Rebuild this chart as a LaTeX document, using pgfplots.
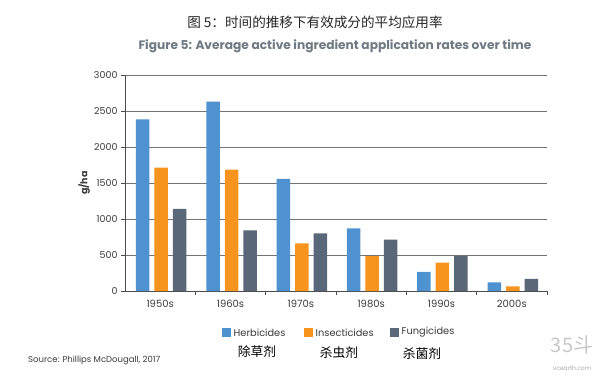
\documentclass[border=0pt]{standalone}
\usepackage{pgfplots}
\pgfplotsset{compat=1.18}
\usepackage{fontspec}
\setmainfont{Poppins}
\newfontfamily\cjk{Noto Sans CJK SC}
\definecolor{herb}{HTML}{4E92D0}
\definecolor{insc}{HTML}{F7941E}
\definecolor{fung}{HTML}{5A6778}
\definecolor{ttl}{HTML}{6E7982}
\definecolor{txt}{HTML}{3A3A3A}
\begin{document}
\begin{tikzpicture}[x=1pt,y=1pt]
\path (0,0) rectangle (600,-378);
\begin{axis}[
  at={(125pt,-291pt)}, anchor=south west,
  scale only axis, width=422pt, height=216pt,
  xmin=-0.5, xmax=5.5, ymin=0, ymax=3000,
  axis lines=left, axis line style={-, draw=black!70, line width=0.7pt},
  xtick={0,1,2,3,4,5},
  xticklabels={1950s,1960s,1970s,1980s,1990s,2000s},
  minor xtick={0.5,1.5,2.5,3.5,4.5,5.5},
  major x tick style={draw=none},
  minor x tick style={draw=black!70, line width=0.7pt},
  minor tick length=4pt,
  ytick={0,500,...,3000},
  y tick style={draw=black!70, line width=0.7pt},
  major tick length=4pt,
  tick align=outside,
  ymajorgrids, grid style={draw=black!55, line width=0.9pt},
  /pgf/number format/assume math mode=true,
  /pgf/number format/1000 sep={},
  yticklabel style={font=\fontsize{9.5}{10}\selectfont, text=txt},
  xticklabel style={font=\fontsize{10}{11}\selectfont, text=txt, yshift=-2pt},
  ylabel={\textbf{g/ha}}, ylabel style={font=\fontsize{9.5}{10}\selectfont, text=txt},
  ylabel shift=-3pt,
  ybar, bar width=13.5pt,
  clip=false,
]
\addplot[fill=herb, draw=none, bar shift=-17.5pt] coordinates {(0,2385) (1,2630) (2,1556) (3,870) (4,264) (5,120)};
\addplot[fill=insc, draw=none, bar shift=1pt] coordinates {(0,1713) (1,1685) (2,662) (3,486) (4,394) (5,65)};
\addplot[fill=fung, draw=none, bar shift=19.5pt] coordinates {(0,1139) (1,843) (2,801) (3,713) (4,486) (5,167)};
\end{axis}
% titles
\node[font=\cjk\fontsize{13.6}{14}\selectfont, text=black!85] at (315,-22) {图 5：时间的推移下有效成分的平均应用率};
\node[font=\bfseries\fontsize{12.2}{13}\selectfont, text=ttl] at (335,-46) {Figure 5: Average active ingredient application rates over time};
% legend
\fill[herb] (222,-328) rectangle (231,-337);
\node[anchor=west, font=\fontsize{9.8}{10}\selectfont, text=txt, inner sep=0pt] at (233.5,-332.5) {Herbicides};
\fill[insc] (304,-328) rectangle (313,-337);
\node[anchor=west, font=\fontsize{9.8}{10}\selectfont, text=txt, inner sep=0pt] at (315.5,-332.5) {Insecticides};
\fill[fung] (390,-328) rectangle (399,-337);
\node[anchor=west, font=\fontsize{9.8}{10}\selectfont, text=txt, inner sep=0pt] at (401.5,-332.5) {Fungicides};
\node[font=\cjk\fontsize{12.8}{13}\selectfont, text=black] at (257,-352) {除草剂};
\node[font=\cjk\fontsize{12.8}{13}\selectfont, text=black] at (339,-353) {杀虫剂};
\node[font=\cjk\fontsize{12.8}{13}\selectfont, text=black] at (422,-354) {杀菌剂};
% source
\node[anchor=west, font=\fontsize{8.5}{9}\selectfont, text=txt, inner sep=0pt] at (28,-360) {Source: Phillips McDougall, 2017};
% watermark
\node[font=\cjk\fontsize{20}{21}\selectfont, text=black!22] at (572,-345) {35斗};
\node[font=\fontsize{6}{7}\selectfont, text=black!35] at (572,-368) {vcearth.com};
\end{tikzpicture}
\end{document}
